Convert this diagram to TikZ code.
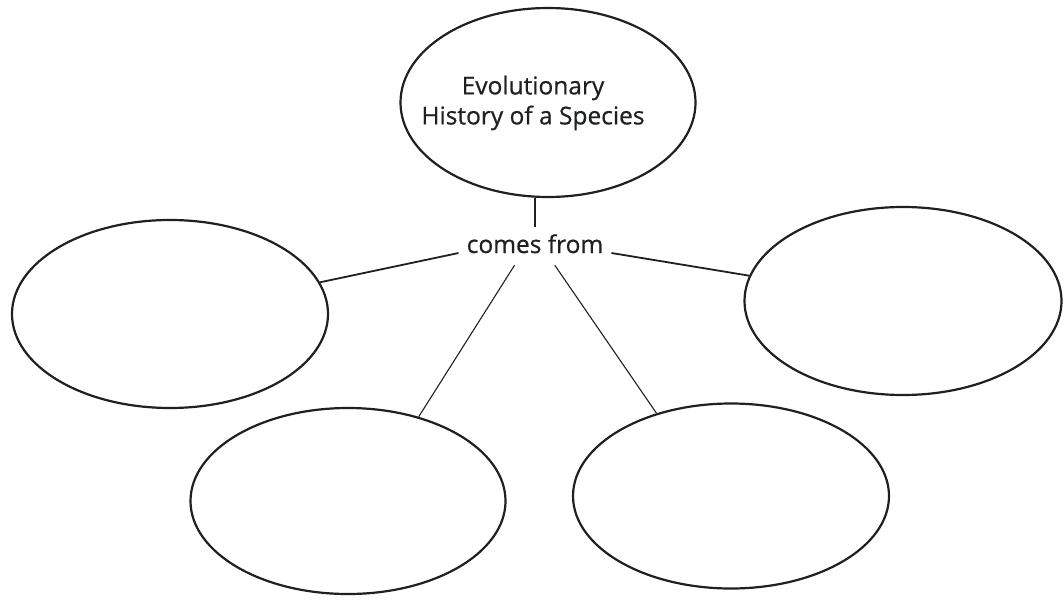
\documentclass[tikz,border=0pt]{standalone}
\usepackage{fontspec}
\setmainfont{Open Sans}
\newfontfamily\lblfont{Open Sans}[FakeBold=0.6]
\usetikzlibrary{shapes.geometric,calc}
\definecolor{ink}{RGB}{30,32,34}
\tikzset{
  bubble/.style={ellipse, draw=ink, line width=2.2pt, inner sep=0pt},
  lbl/.style={text=ink, font=\lblfont\fontsize{24.5}{30}\selectfont, align=center},
  conn/.style={draw=ink, line width=1.8pt},
  thinconn/.style={draw=ink, line width=1.1pt}
}
\begin{document}
\begin{tikzpicture}[x=1pt,y=-1pt]
\useasboundingbox[fill=white] (0,0) rectangle (1064,607);
\node[bubble, minimum width=295pt, minimum height=189pt] (top) at (548,102.5) {};
\node[lbl, inner sep=0pt] (toplbl) at (533,103) {Evolutionary\\History of a Species};
\node[bubble, minimum width=316pt, minimum height=188pt] (l) at (170,314) {};
\node[bubble, minimum width=317pt, minimum height=188pt] (r) at (903,301) {};
\node[bubble, minimum width=315pt, minimum height=186pt] (bl) at (348,501) {};
\node[bubble, minimum width=316pt, minimum height=185pt] (br) at (731,496) {};
\node[lbl, anchor=base, inner xsep=8pt, inner ysep=7pt, text depth=5pt] (cf) at (535,253) {comes from};
\draw[line width=1.4pt, draw=ink] (cf.north) -- (cf.north |- top.south);
\draw[conn] (cf.base west) -- (l);
\draw[conn] (cf.base east) -- (r);
\draw[thinconn] (cf.223.5) -- (bl.50);
\draw[thinconn] (cf.316.5) -- (br.132);
\end{tikzpicture}
\end{document}
